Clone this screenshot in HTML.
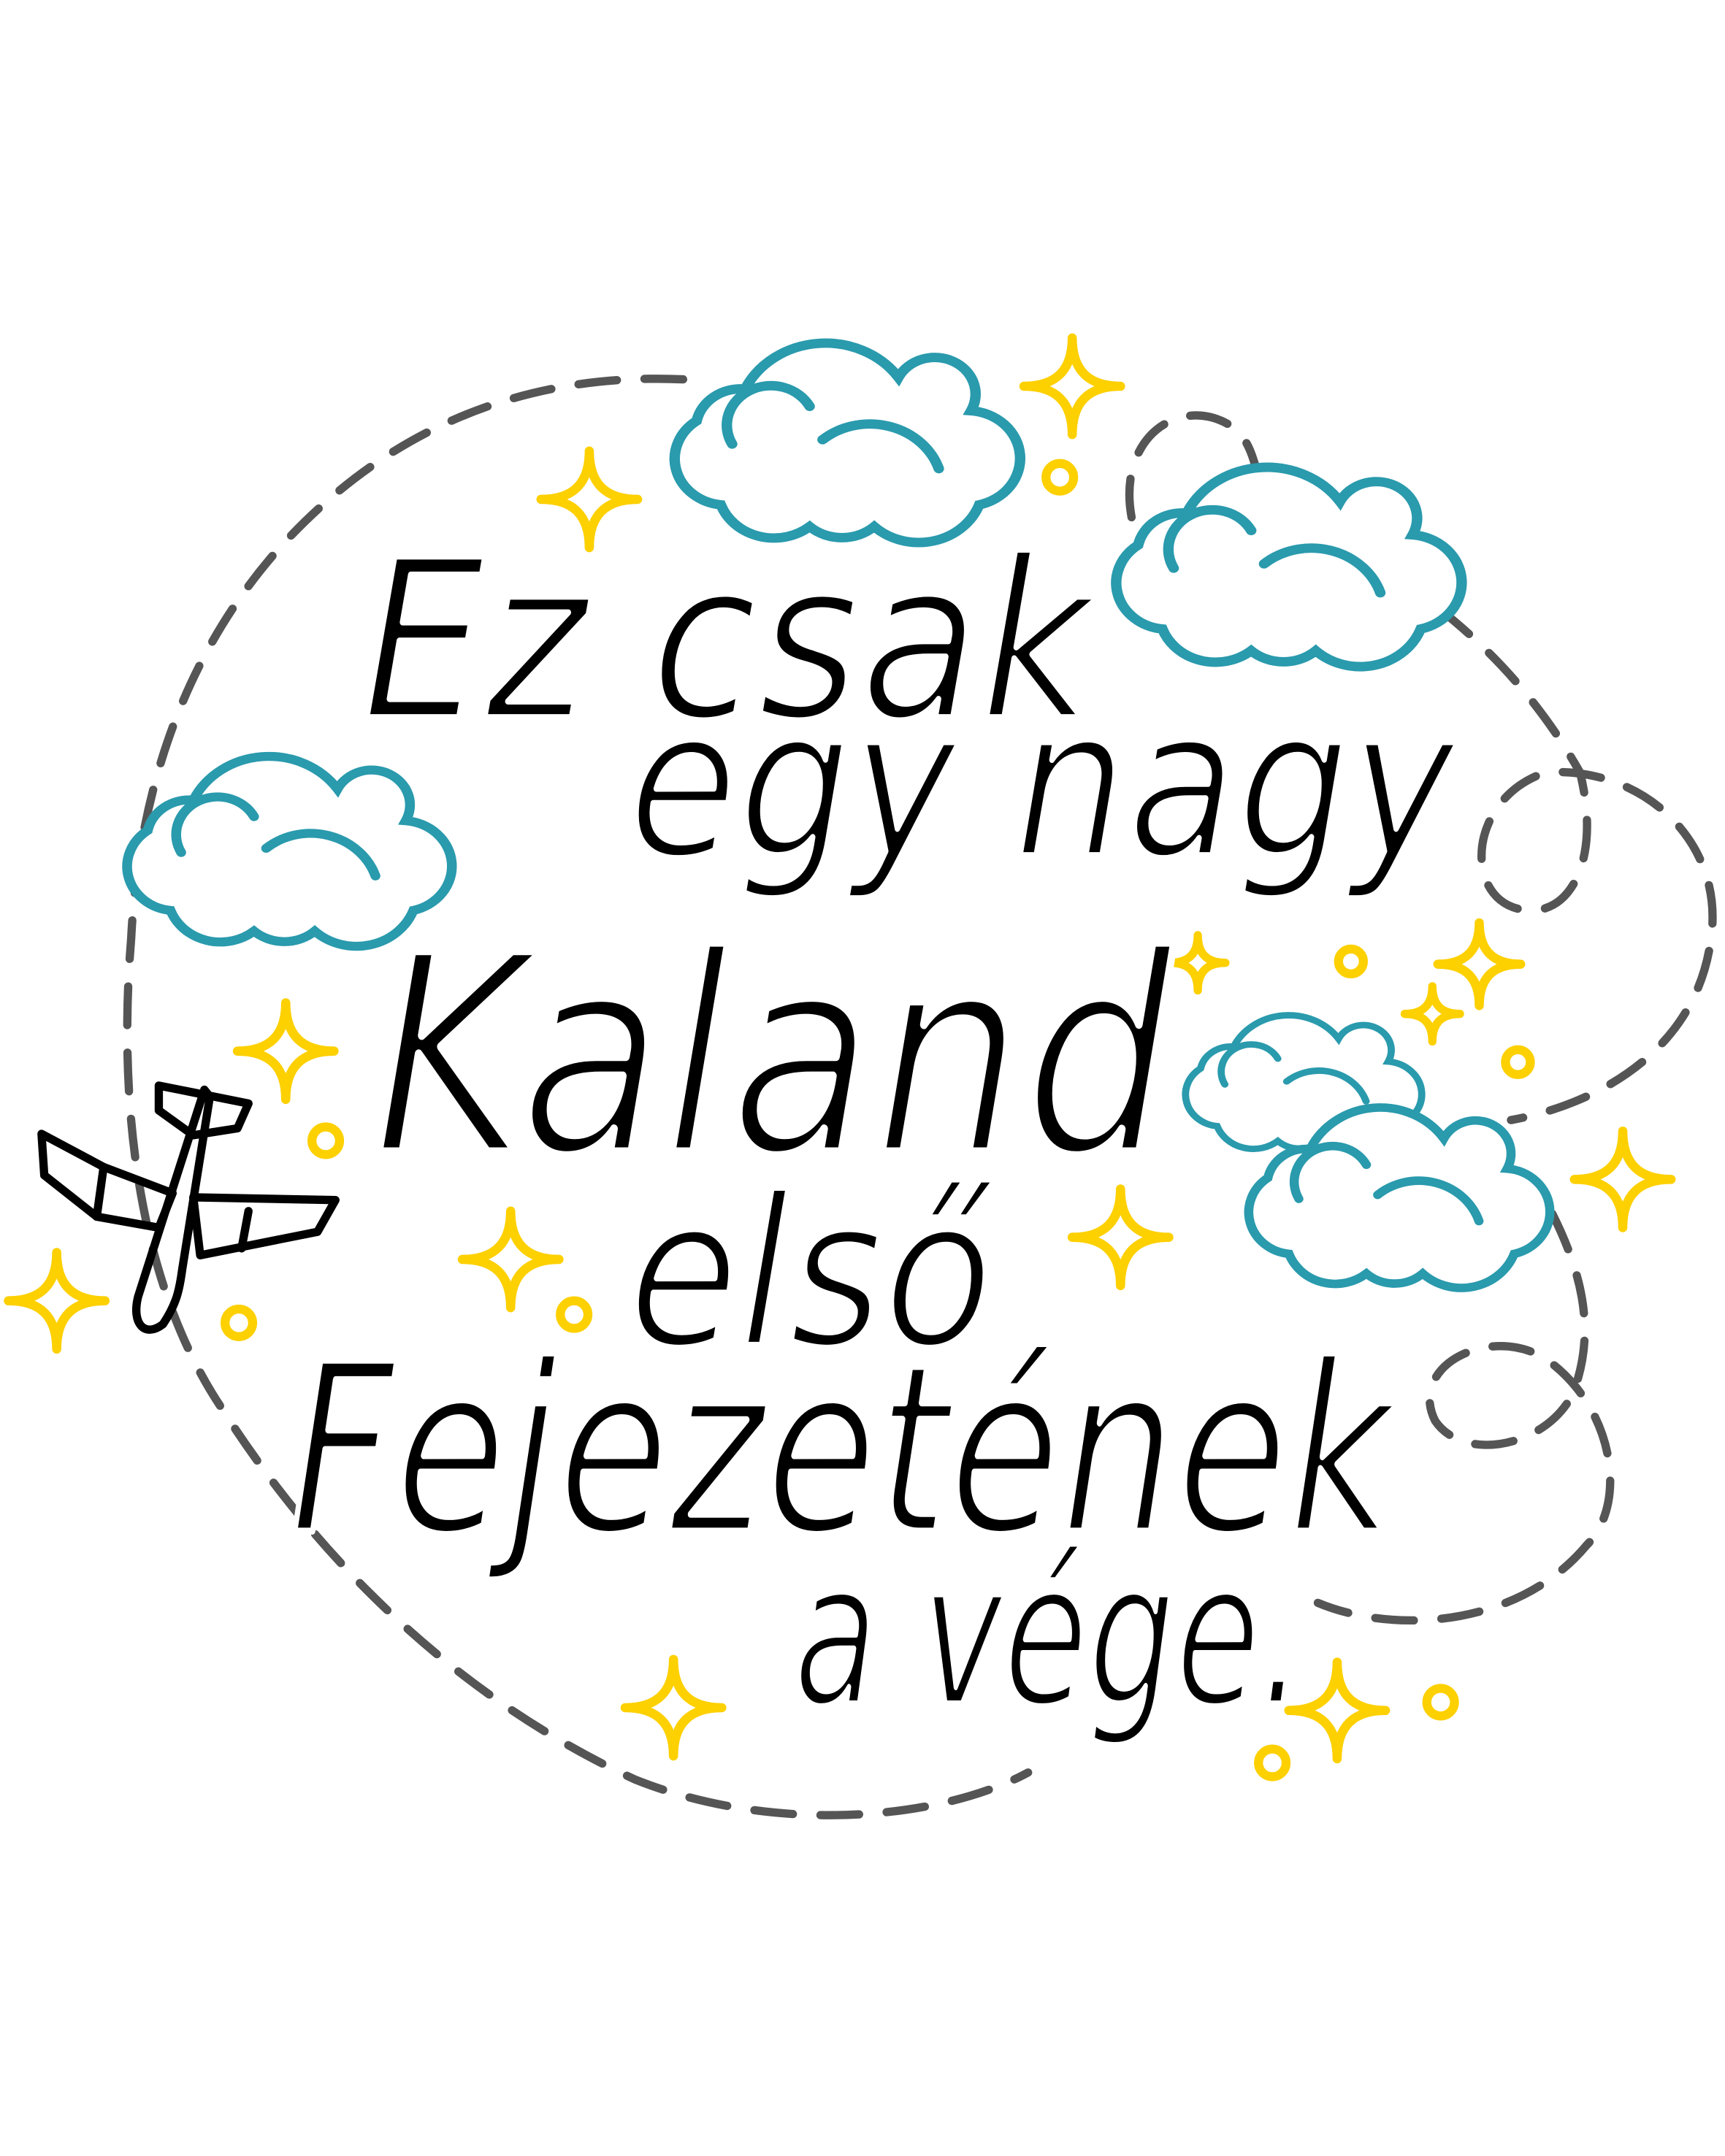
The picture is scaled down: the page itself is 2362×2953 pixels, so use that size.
<!DOCTYPE html>
<html><head><meta charset="utf-8"><style>
html,body{margin:0;padding:0;background:#fff;}
svg{display:block;}
</style></head><body>
<svg width="2362" height="2953" viewBox="0 0 1250 1563" xmlns="http://www.w3.org/2000/svg">
<defs>
<g id="cloud">
<path d="M 55,120 A 32,32 0 0 1 40,62 A 28,28 0 0 1 70,40 A 55,55 0 0 1 165,32 A 25,25 0 0 1 210,55 A 33,33 0 0 1 215,120 A 40,40 0 0 1 150,135 A 30,30 0 0 1 110,135 A 35,35 0 0 1 55,120 Z" fill="#fff"/>
<path d="M 62,78 A 25,25 0 0 1 110,52 M 118,75 A 45,45 0 0 1 190,95" fill="none"/>
</g>
<path id="spark" d="M0,-1 Q0,0 1,0 Q0,0 0,1 Q0,0 -1,0 Q0,0 0,-1 Z" fill="none"/>
</defs>
<g fill="none" stroke="#555" stroke-width="6" stroke-dasharray="28 20" stroke-linecap="round">
<path d="M 495,275 C 380,270 280,310 200,400 C 130,480 100,580 95,680 C 85,800 100,930 160,1020 C 230,1130 330,1230 460,1290 C 560,1330 680,1320 745,1285"/>
<path d="M 820,375 C 810,320 850,290 885,305 C 920,320 900,360 940,380 C 1030,420 1100,480 1145,560 C 1160,620 1140,660 1110,660 C 1060,660 1060,580 1120,560 C 1190,555 1250,610 1240,680 C 1230,760 1160,800 1095,812"/>
<path d="M 1125,880 C 1150,930 1155,970 1140,1010 C 1120,1050 1060,1060 1040,1030 C 1020,990 1080,960 1120,985 C 1170,1020 1180,1090 1150,1120 C 1100,1180 1010,1185 955,1162"/>
</g>
<g stroke="#2a9aad" stroke-width="6.5" stroke-linecap="round">
<use href="#cloud" transform="translate(458,240) scale(1.17,1.05)"/>
<use href="#cloud" transform="translate(778,330) scale(1.17,1.05)"/>
<use href="#cloud" transform="translate(63,540) scale(1.1,1.0)"/>
<use href="#cloud" transform="translate(838,730) scale(0.8,0.72)"/>
<use href="#cloud" transform="translate(878,795) scale(1.02,0.95)"/>
</g>
<g stroke="#fdd000" stroke-width="6.5" stroke-linejoin="round" fill="none">
<use href="#spark" transform="translate(427,362) scale(35)" stroke-width="0.19"/>
<use href="#spark" transform="translate(777,280) scale(35)" stroke-width="0.19"/>
<use href="#spark" transform="translate(207,762) scale(35)" stroke-width="0.19"/>
<use href="#spark" transform="translate(370,913) scale(35)" stroke-width="0.19"/>
<use href="#spark" transform="translate(41,943) scale(35)" stroke-width="0.19"/>
<use href="#spark" transform="translate(488,1238) scale(35)" stroke-width="0.19"/>
<use href="#spark" transform="translate(812,897) scale(35)" stroke-width="0.19"/>
<use href="#spark" transform="translate(969,1240) scale(35)" stroke-width="0.19"/>
<use href="#spark" transform="translate(1176,855) scale(35)" stroke-width="0.19"/>
<use href="#spark" transform="translate(1072,699) scale(30)" stroke-width="0.22"/>
<use href="#spark" transform="translate(868,698) scale(20)" stroke-width="0.3"/>
<use href="#spark" transform="translate(1038,735) scale(20)" stroke-width="0.3"/>
<circle cx="768" cy="346" r="10"/><circle cx="236" cy="827" r="10"/>
<circle cx="173" cy="959" r="10"/><circle cx="416" cy="953" r="10"/>
<circle cx="979" cy="697" r="9"/><circle cx="1100" cy="770" r="9"/>
<circle cx="1044" cy="1234" r="10"/><circle cx="922" cy="1278" r="10"/>
</g>
<g stroke="#000" stroke-width="6" fill="none" stroke-linejoin="round" stroke-linecap="round">
<path d="M148,790 L100,940 C95,960 105,970 118,960 C128,945 130,935 132,920 L152,795 Z"/>
<path d="M30,822 L75,846 L125,865 L115,890 L70,882 L32,852 Z"/>
<path d="M140,868 L243,870 L230,893 L145,910 Z"/>
<path d="M115,787 L180,800 L172,818 L140,823 L115,805 Z"/>
<path d="M75,846 L70,882 M180,878 L175,905"/>
</g>
<g font-family="'DejaVu Sans', sans-serif" font-style="italic" fill="#000" stroke="#fff" stroke-width="4.5" stroke-linejoin="round">
<text x="262" y="520" font-size="160" textLength="530" lengthAdjust="spacingAndGlyphs">Ez csak</text>
<text x="455" y="620" font-size="150" textLength="600" lengthAdjust="spacingAndGlyphs">egy nagy</text>
<text x="270" y="835" font-size="200" textLength="580" lengthAdjust="spacingAndGlyphs" stroke-width="6.5">Kaland</text>
<text x="455" y="975" font-size="150" textLength="265" lengthAdjust="spacingAndGlyphs">első</text>
<text x="210" y="1110" font-size="170" textLength="800" lengthAdjust="spacingAndGlyphs" stroke-width="5">Fejezetének</text>
<text x="575" y="1235" font-size="145" textLength="370" lengthAdjust="spacingAndGlyphs">a vége.</text>
</g>
</svg>
</body></html>
